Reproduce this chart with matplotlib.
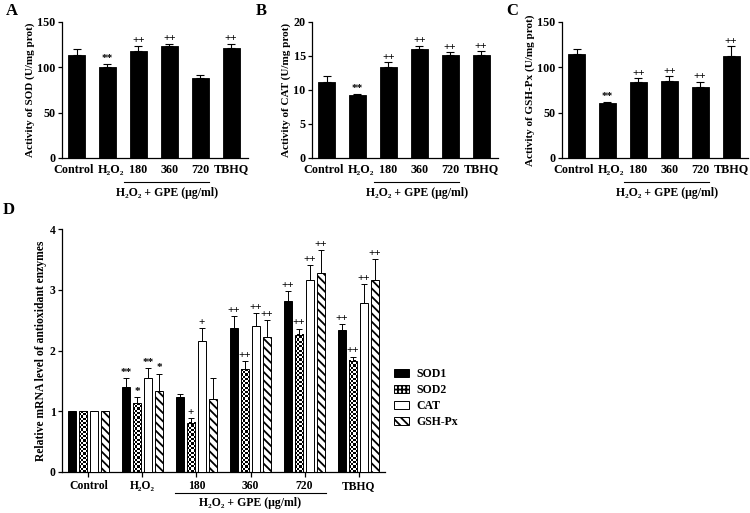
import matplotlib
matplotlib.use("Agg")
import matplotlib.pyplot as plt
from matplotlib.patches import Patch
from matplotlib.transforms import ScaledTranslation, blended_transform_factory
import numpy as np

plt.rcParams['font.family'] = ['Liberation Serif', 'DejaVu Serif']
plt.rcParams['font.weight'] = 'bold'
plt.rcParams['hatch.linewidth'] = 1.3

# ---------------- data ----------------
groups = ['Control', 'H₂O₂', '180', '360', '720', 'TBHQ']
group_label = 'H₂O₂ + GPE (μg/ml)'

sod_vals = [114, 100, 118, 123, 88, 121]
sod_err = [6, 4, 6, 3, 3, 5]
sod_marks = ['', '**', '++', '++', '', '++']

cat_vals = [11.2, 9.2, 13.4, 16.0, 15.2, 15.1]
cat_err = [0.8, 0.25, 0.7, 0.5, 0.4, 0.6]
cat_marks = ['', '**', '++', '++', '++', '++']

gsh_vals = [115, 61, 84, 85, 78, 113]
gsh_err = [5, 1, 4, 5, 6, 10]
gsh_marks = ['', '**', '++', '++', '++', '++']

genes = ['SOD1', 'SOD2', 'CAT', 'GSH-Px']
mrna_vals = {
    'SOD1':   [1.0, 1.40, 1.23, 2.37, 2.82, 2.34],
    'SOD2':   [1.0, 1.13, 0.81, 1.69, 2.26, 1.83],
    'CAT':    [1.0, 1.55, 2.15, 2.40, 3.16, 2.78],
    'GSH-Px': [1.0, 1.33, 1.20, 2.23, 3.27, 3.16],
}
mrna_err = {
    'SOD1':   [0.0, 0.15, 0.05, 0.20, 0.16, 0.09],
    'SOD2':   [0.0, 0.10, 0.08, 0.14, 0.10, 0.07],
    'CAT':    [0.0, 0.16, 0.22, 0.21, 0.25, 0.31],
    'GSH-Px': [0.0, 0.29, 0.34, 0.27, 0.38, 0.34],
}
mrna_marks = {
    'SOD1':   ['', '**', '', '++', '++', '++'],
    'SOD2':   ['', '*', '+', '++', '++', '++'],
    'CAT':    ['', '**', '+', '++', '++', '++'],
    'GSH-Px': ['', '*', '', '++', '++', '++'],
}
styles = {
    'SOD1':   dict(facecolor='black', hatch=None, checker=False),
    'SOD2':   dict(facecolor='white', hatch=None, checker=True),
    'CAT':    dict(facecolor='white', hatch=None, checker=False),
    'GSH-Px': dict(facecolor='white', hatch='\\\\\\\\', checker=False),
}

FS = 8
W, H = 750, 513
fig = plt.figure(figsize=(W / 100, H / 100), dpi=100)


def ax_rect(l, r, t, b):
    return [l / W, 1 - b / H, (r - l) / W, (b - t) / H]


def style_axis(ax, tfs):
    for s in ['top', 'right']:
        ax.spines[s].set_visible(False)
    for s in ['left', 'bottom']:
        ax.spines[s].set_linewidth(0.9)
    ax.tick_params(axis='both', labelsize=tfs, width=0.9, length=3, pad=1.5)
    for lab in ax.get_xticklabels() + ax.get_yticklabels():
        lab.set_fontweight('bold')


def bracket(ax, x0, x1, yline_px, ytext_px, fs):
    tr = blended_transform_factory(ax.transData, fig.transFigure)
    ax.plot([x0, x1], [1 - yline_px / H] * 2, color='black', lw=0.8,
            transform=tr, clip_on=False)
    ax.text((x0 + x1) / 2, 1 - ytext_px / H, group_label, transform=tr,
            ha='center', va='center', fontsize=fs, fontweight='bold')


def activity_panel(rect, vals, err, marks, ymax, step, ylabel, letter, mark_off):
    ax = fig.add_axes(rect)
    x = np.arange(len(groups))
    ax.bar(x, vals, width=0.55, color='black', edgecolor='black', lw=0.6)
    ax.errorbar(x, vals, yerr=[np.zeros(len(err)), err], fmt='none',
                ecolor='black', elinewidth=0.8, capsize=3, capthick=0.8)
    for xi, v, e, m in zip(x, vals, err, marks):
        if m:
            ax.text(xi, v + e + mark_off, m, ha='center', va='bottom',
                    fontsize=FS, fontweight='bold')
    ax.set_xlim(-0.47, 5.55)
    ax.set_ylim(0, ymax)
    ax.set_yticks(np.arange(0, ymax + 0.001, step))
    ax.set_xticks(x)
    ax.set_xticklabels(groups)
    ax.set_ylabel(ylabel, fontsize=FS, fontweight='bold', labelpad=2)
    style_axis(ax, 8.7)
    ax.tick_params(axis='x', length=0, pad=4)
    labs = ax.get_xticklabels()
    labs[0].set_transform(labs[0].get_transform() +
                          ScaledTranslation(-3 / 100, 0, fig.dpi_scale_trans))
    labs[1].set_transform(labs[1].get_transform() +
                          ScaledTranslation(4 / 100, 0, fig.dpi_scale_trans))
    bracket(ax, 1.55, 4.3, 182, 193, 8.5)
    ax.text(-0.3, 1.02, letter, transform=ax.transAxes, fontsize=12,
            fontweight='bold', va='bottom', ha='left')
    return ax


activity_panel(ax_rect(62, 248, 22, 158), sod_vals, sod_err, sod_marks, 150, 50,
               'Activity of SOD (U/mg prot)', 'A', 0.5)
activity_panel(ax_rect(312, 498, 22, 158), cat_vals, cat_err, cat_marks, 20, 5,
               'Activity of CAT (U/mg prot)', 'B', 0.05)
activity_panel(ax_rect(562, 748, 22, 158), gsh_vals, gsh_err, gsh_marks, 150, 50,
               'Activity of GSH-Px (U/mg prot)', 'C', 0.5)

# ---------------- panel D ----------------
d_left, d_right, d_top, d_bot = 62, 385, 229, 472
axd = fig.add_axes(ax_rect(d_left, d_right, d_top, d_bot))
x = np.arange(len(groups))
bw = 0.157
step = 0.204
xlim = (-0.49, 5.49)
ylim = (0, 4)
px_per_y = (d_bot - d_top) / (ylim[1] - ylim[0])
cell_px = 2.2
handles = []
for i, g in enumerate(genes):
    xs = x + (i - 1.5) * step
    st = styles[g]
    bars = axd.bar(xs, mrna_vals[g], width=bw, facecolor=st['facecolor'],
                   edgecolor='black', lw=0.7, hatch=st['hatch'], zorder=3)
    if st['checker']:
        for b in bars:
            b.set_facecolor('none')
            bx0 = b.get_x()
            bh = b.get_height()
            ny = max(1, int(round(bh * px_per_y / cell_px)))
            nx = 4
            cb = (np.add.outer(np.arange(ny), np.arange(nx)) % 2).astype(float)
            axd.imshow(cb, cmap='gray', vmin=0, vmax=1, interpolation='nearest',
                       extent=(bx0, bx0 + b.get_width(), 0, bh), origin='lower',
                       aspect='auto', zorder=2)
    axd.errorbar(xs, mrna_vals[g], yerr=[np.zeros(6), mrna_err[g]], fmt='none',
                 ecolor='black', elinewidth=0.7, capsize=2.2, capthick=0.7, zorder=4)
    for xi, v, e, m in zip(xs, mrna_vals[g], mrna_err[g], mrna_marks[g]):
        if m:
            axd.text(xi, v + e + 0.02, m, ha='center', va='bottom',
                     fontsize=FS, fontweight='bold')
    handles.append(Patch(facecolor=st['facecolor'], edgecolor='black',
                         hatch=('++++' if st['checker'] else st['hatch']),
                         lw=0.7, label=g))

axd.set_xlim(*xlim)
axd.set_ylim(*ylim)
axd.set_yticks([0, 1, 2, 3, 4])
axd.set_xticks(x)
axd.set_xticklabels(groups)
axd.set_ylabel('Relative mRNA level of antioxidant enzymes', fontsize=8.4,
               fontweight='bold', labelpad=2)
style_axis(axd, 8.4)
axd.tick_params(axis='x', length=3.5, pad=2)
bracket(axd, 1.6, 4.4, 493, 503, 8.5)
fig.text(3 / W, 1 - 210 / H, 'D', fontsize=12, fontweight='bold',
         va='center', ha='left')

leg = fig.legend(handles=handles, loc='upper left',
                 bbox_to_anchor=(394 / W, 1 - 368 / H), frameon=False,
                 borderaxespad=0, borderpad=0,
                 prop={'family': 'Liberation Serif', 'weight': 'bold', 'size': 8.5},
                 handlelength=1.3, handleheight=0.7, handletextpad=0.6,
                 labelspacing=0.35)

fig.savefig('out.png', dpi=100)
